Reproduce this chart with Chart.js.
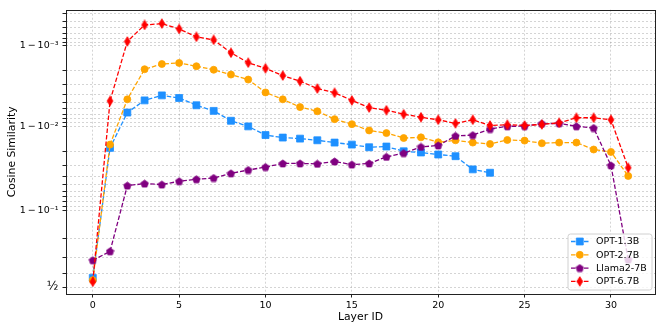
<!DOCTYPE html>
<html>
<head>
<meta charset="utf-8">
<script src="https://cdn.jsdelivr.net/npm/chart.js@4/dist/chart.umd.min.js"></script>
<style>
  html, body { margin: 0; padding: 0; background: #fff; }
  canvas { display: block; }
</style>
</head>
<body>
<canvas id="chart" width="664" height="332"></canvas>
<script>
// --- data (cosine similarity per layer) ---
const layerIds = [0,1,2,3,4,5,6,7,8,9,10,11,12,13,14,15,16,17,18,19,20,21,22,23,24,25,26,27,28,29,30,31];
const seriesNames = ['OPT-1.3B', 'OPT-2.7B', 'Llama2-7B', 'OPT-6.7B'];

const opt13 = [0.5676, 0.9818, 0.9933, 0.99526, 0.99589, 0.99557, 0.99455, 0.99361, 0.99154, 0.99008,
  0.98733, 0.98639, 0.98598, 0.98531, 0.98433, 0.98342, 0.98213, 0.98249, 0.97997, 0.9793,
  0.9781, 0.97704, 0.9669, 0.96367];
const opt27 = [0.551, 0.98342, 0.9954, 0.99805, 0.99832, 0.99837, 0.99821, 0.99802, 0.99773, 0.99738,
  0.99622, 0.9954, 0.99426, 0.99354, 0.99192, 0.99069, 0.98888, 0.98801, 0.98622, 0.98648,
  0.98447, 0.98531, 0.98433, 0.98371, 0.98543, 0.98518, 0.98402, 0.98433, 0.98433, 0.98096,
  0.97963, 0.96025];
const llama7 = [0.6843, 0.7369, 0.9483, 0.951, 0.9497, 0.9541, 0.9565, 0.958, 0.963, 0.9663,
  0.9689, 0.9719, 0.9719, 0.9716, 0.9734, 0.971, 0.9719, 0.9766, 0.9789, 0.9823,
  0.983, 0.987, 0.9873, 0.9893, 0.9901, 0.99015, 0.9908, 0.99088, 0.9901, 0.9896,
  0.9703, 0.6887];
const opt67 = [0.5397, 0.99518, 0.999118, 0.999449, 0.99947, 0.999382, 0.999226, 0.999157, 0.99878, 0.99838,
  0.9981, 0.99766, 0.99726, 0.99662, 0.99618, 0.99526, 0.99418, 0.99373, 0.99297, 0.99235,
  0.99177, 0.99088, 0.99177, 0.99034, 0.99054, 0.99034, 0.99061, 0.99104, 0.99223, 0.99223,
  0.99177, 0.9683];

const xTicks = [0, 5, 10, 15, 20, 25, 30];
const yMajorTicks = [0.5, 0.9, 0.99, 0.999];
const yTickLabels = ['\u00BD', '1\u2009\u2212\u200910\u207B\u00B9', '1\u2009\u2212\u200910\u207B\u00B2', '1\u2009\u2212\u200910\u207B\u00B3'];
const yMinorTicks = [0.6, 0.7, 0.8,
  0.91, 0.92, 0.93, 0.94, 0.95, 0.96, 0.97, 0.98,
  0.991, 0.992, 0.993, 0.994, 0.995, 0.996, 0.997, 0.998,
  0.9991, 0.9992, 0.9993, 0.9994, 0.9995, 0.9996];

// --- logit scale (like matplotlib's 'logit') ---
const logit = p => Math.log10(p / (1 - p));

class LogitScale extends Chart.Scale {
  determineDataLimits() {
    const { min, max } = this.getMinMax(true);
    this.min = this.options.min ?? min;
    this.max = this.options.max ?? max;
  }
  buildTicks() {
    return yMajorTicks.concat(yMinorTicks)
      .filter(v => v >= this.min && v <= this.max)
      .sort((a, b) => a - b)
      .map(v => ({ value: v }));
  }
  configure() {
    super.configure();
    this._lStart = logit(this.min);
    this._lRange = logit(this.max) - this._lStart;
  }
  getLabelForValue(v) { return String(v); }
  getPixelForValue(v) {
    return this.getPixelForDecimal((logit(v) - this._lStart) / this._lRange);
  }
  getValueForPixel(px) {
    const l = this._lStart + this.getDecimalForPixel(px) * this._lRange;
    return 1 / (1 + Math.pow(10, -l));
  }
}
LogitScale.id = 'logit';
LogitScale.defaults = {};
Chart.register(LogitScale);

// --- marker images for pentagon / thin diamond ---
function makeMarker(color, kind) {
  const c = document.createElement('canvas');
  const w = kind === 'pent' ? 9 : 8, h = kind === 'pent' ? 9 : 11;
  c.width = w; c.height = h;
  const g = c.getContext('2d');
  g.beginPath();
  if (kind === 'pent') {
    const r = 3.9, cx = w / 2, cy = h / 2 + 0.3;
    for (let i = 0; i < 5; i++) {
      const a = -Math.PI / 2 + i * 2 * Math.PI / 5;
      const px = cx + r * Math.cos(a), py = cy + r * Math.sin(a);
      i ? g.lineTo(px, py) : g.moveTo(px, py);
    }
  } else {
    const cx = w / 2, cy = h / 2;
    g.moveTo(cx, cy - 4.8); g.lineTo(cx + 2.9, cy); g.lineTo(cx, cy + 4.8); g.lineTo(cx - 2.9, cy);
  }
  g.closePath();
  g.fillStyle = color; g.fill();
  g.strokeStyle = color; g.lineWidth = 0.8; g.stroke();
  return c;
}

const colors = ['#1E90FF', '#FFA500', '#800080', '#FF0000'];
const seriesData = [opt13, opt27, llama7, opt67];
const styles = [
  { pointStyle: 'rect', radius: 4.9 },
  { pointStyle: 'circle', radius: 3.5 },
  { pointStyle: makeMarker(colors[2], 'pent'), radius: 4 },
  { pointStyle: makeMarker(colors[3], 'diam'), radius: 4 }
];

const datasets = seriesNames.map((name, i) => ({
  label: name,
  data: seriesData[i],
  borderColor: colors[i],
  backgroundColor: colors[i],
  borderWidth: 1.3,
  borderDash: [4.5, 2],
  pointStyle: styles[i].pointStyle,
  pointRadius: styles[i].radius,
  pointBorderWidth: 0.8,
  pointBorderColor: colors[i],
  pointBackgroundColor: colors[i],
  tension: 0,
  fill: false,
  order: 4 - i
}));

// frame around plot + legend inside lower right
const framePlugin = {
  id: 'frame',
  afterDatasetsDraw(chart) {
    const { ctx, chartArea: a } = chart;
    ctx.save();
    ctx.strokeStyle = '#222';
    ctx.lineWidth = 1;
    ctx.strokeRect(Math.round(a.left) + 0.5, Math.round(a.top) + 0.5,
      Math.round(a.right - a.left), Math.round(a.bottom - a.top));
    ctx.restore();
  },
  afterDraw(chart) {
    const { ctx, chartArea: a } = chart;
    const w = 84, h = 56;
    const x0 = a.right - 3.5 - w, y0 = a.bottom - 4.5 - h;
    ctx.save();
    ctx.beginPath();
    ctx.roundRect(x0 + 0.5, y0 + 0.5, w, h, 2.5);
    ctx.fillStyle = 'rgba(255,255,255,0.8)';
    ctx.fill();
    ctx.strokeStyle = '#d0d0d0';
    ctx.lineWidth = 1;
    ctx.stroke();
    ctx.font = '9.5px "DejaVu Sans"';
    ctx.textBaseline = 'middle';
    ctx.textAlign = 'left';
    datasets.forEach((ds, i) => {
      const y = y0 + 8 + i * 13.3;
      ctx.beginPath();
      ctx.setLineDash([4.5, 2]);
      ctx.strokeStyle = ds.borderColor;
      ctx.lineWidth = 1.3;
      ctx.moveTo(x0 + 3.5, y); ctx.lineTo(x0 + 21, y);
      ctx.stroke();
      ctx.setLineDash([]);
      ctx.fillStyle = ds.backgroundColor;
      ctx.strokeStyle = ds.borderColor;
      ctx.lineWidth = 0.8;
      Chart.helpers.drawPoint(ctx, { pointStyle: ds.pointStyle, radius: ds.pointRadius, rotation: 0, borderWidth: 0.8 }, x0 + 12.3, y);
      ctx.fillStyle = '#000';
      ctx.fillText(ds.label, x0 + 28.5, y + 0.5);
    });
    ctx.restore();
  }
};

const gridStyle = {
  color: 'rgba(150,150,150,0.5)',
  lineWidth: 0.8,
  tickColor: '#222',
  tickWidth: 1,
  tickLength: 3.5,
  tickBorderDash: [],
  drawTicks: true
};

new Chart(document.getElementById('chart'), {
  type: 'line',
  data: { labels: layerIds, datasets },
  options: {
    responsive: false,
    animation: false,
    devicePixelRatio: 1,
    layout: { padding: { left: 6, top: 7, right: 9, bottom: 8 } },
    plugins: { legend: { display: false }, tooltip: { enabled: false } },
    scales: {
      x: {
        type: 'linear',
        min: -1.55,
        max: 32.55,
        afterBuildTicks: s => { s.ticks = xTicks.map(v => ({ value: v })); },
        afterFit: s => { s.height = 30; },
        border: { display: false, dash: [2, 2] },
        grid: gridStyle,
        ticks: {
          autoSkip: false, maxRotation: 0, padding: 2.5, color: '#000',
          font: { family: 'DejaVu Sans', size: 9.5 },
          callback: v => String(v)
        },
        title: {
          display: true, text: 'Layer ID', color: '#000', padding: { top: 0, bottom: 0 },
          font: { family: 'DejaVu Sans', size: 10.8 }
        }
      },
      y: {
        type: 'logit',
        min: 0.4527,
        max: 0.999644,
        afterFit: s => { s.width = 60; },
        border: { display: false, dash: [2, 2] },
        grid: gridStyle,
        ticks: {
          autoSkip: false, padding: 4, color: '#000',
          font: c => ({ family: 'DejaVu Sans', size: (c.tick && c.tick.value === 0.5) ? 12 : 9.5 }),
          callback: v => {
            const k = yMajorTicks.indexOf(v);
            return k >= 0 ? yTickLabels[k] : '';
          }
        },
        title: {
          display: true, text: 'Cosine Similarity', color: '#000', padding: { top: 0, bottom: 0 },
          font: { family: 'DejaVu Sans', size: 10.8 }
        }
      }
    }
  },
  plugins: [framePlugin]
});
</script>
</body>
</html>
